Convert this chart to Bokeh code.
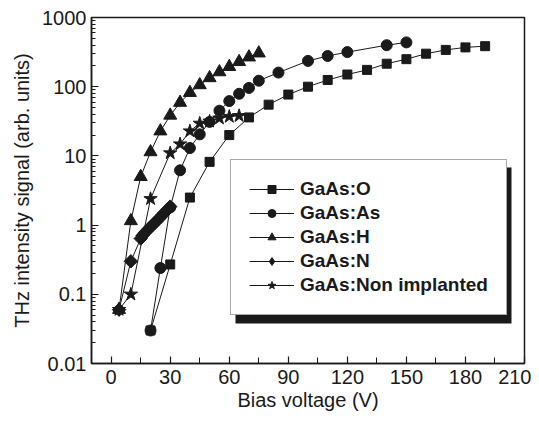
from bokeh.plotting import figure
from bokeh.models import (Legend, LegendItem, SingleIntervalTicker, LogTicker,
                          CustomJSTickFormatter, BoxAnnotation, Range1d,
                          ColumnDataSource, CDSView, IndexFilter)
from bokeh.embed import file_html
from bokeh.resources import INLINE

# ---- data ----
o_v = [20, 30, 40, 50, 60, 70, 80, 90, 100, 110, 120, 130, 140, 150, 160, 170, 180, 190]
o_y = [0.03, 0.27, 2.5, 8.2, 20, 36, 55, 77, 100, 125, 150, 175, 215, 250, 300, 340, 370, 385]

as_v = [20, 25, 30, 35, 40, 45, 50, 55, 60, 65, 70, 75, 85, 100, 110, 120, 140, 150]
as_y = [0.03, 0.24, 1.8, 6.2, 13, 20.5, 31, 45, 62, 79, 96, 122, 160, 236, 278, 316, 398, 437]

h_v = [4, 10, 15, 20, 25, 30, 35, 40, 45, 50, 55, 60, 65, 70, 75]
h_y = [0.06, 1.15, 5.0, 11.4, 22.8, 38.5, 59, 82, 106, 134, 163, 194, 229, 267, 305]

n_v = [4, 10, 15, 16, 17, 18, 19, 20, 21, 22, 23, 24, 25, 26, 27, 28, 29, 30]
n_y = [0.06, 0.3, 0.64, 0.71, 0.77, 0.82, 0.88, 0.94, 1.0, 1.07, 1.14, 1.22, 1.3, 1.4, 1.5, 1.6, 1.72, 1.85]

ni_v = [4, 10, 20, 30, 35, 40, 45, 50, 55, 60, 65]
ni_y = [0.06, 0.1, 2.4, 11, 14.8, 22.8, 29.5, 31.6, 35, 37, 38]

labels = ["GaAs:O", "GaAs:As", "GaAs:H", "GaAs:N", "GaAs:Non implanted"]
x_ticks_interval = 30

FONT = "Liberation Sans"
INK = "#1a1a1a"

p = figure(width=531, height=413, y_axis_type="log",
           x_range=Range1d(-10, 210), y_range=Range1d(0.01, 1000),
           output_backend="svg", toolbar_location=None,
           min_border_left=91, min_border_right=7, min_border_top=17, min_border_bottom=47)

p.grid.visible = False
p.outline_line_color = INK
p.outline_line_width = 1.5
p.background_fill_color = "white"
p.border_fill_color = "white"

# axes
p.xaxis.ticker = SingleIntervalTicker(interval=x_ticks_interval, num_minor_ticks=2)
p.yaxis.ticker = LogTicker(num_minor_ticks=10)
p.yaxis.formatter = CustomJSTickFormatter(code="return Number(tick.toPrecision(3)).toString();")
for ax in (p.xaxis, p.yaxis):
    ax.axis_line_color = INK
    ax.axis_line_width = 1.5
    ax.major_tick_line_color = INK
    ax.minor_tick_line_color = INK
    ax.major_tick_line_width = 1.2
    ax.minor_tick_line_width = 1.0
    ax.major_tick_in = 7
    ax.major_tick_out = 0
    ax.minor_tick_in = 4
    ax.minor_tick_out = 0
    ax.major_label_text_font = FONT
    ax.major_label_text_font_size = "20px"
    ax.major_label_text_color = INK
    ax.axis_label_text_font = FONT
    ax.axis_label_text_font_size = "20px"
    ax.axis_label_text_font_style = "normal"
    ax.axis_label_text_color = INK
p.xaxis.minor_tick_in = 6
p.xaxis.major_label_standoff = 6
p.yaxis.major_label_standoff = 5
p.xaxis.axis_label = "Bias voltage (V)"
p.yaxis.axis_label = "THz intensity signal (arb. units)"
p.xaxis.axis_label_standoff = 2
p.yaxis.axis_label_standoff = 6

# (x, y, marker, size, angle, legend marker, legend size)
series = [
    (o_v, o_y, "square", 9, 0.0, "square", 9),
    (as_v, as_y, "circle", 11, 0.0, "circle", 11),
    (h_v, h_y, "triangle", 13, 0.0, "triangle", 13),
    (n_v, n_y, "square", 9.5, 0.785398, "diamond", 13),
    (ni_v, ni_y, "star", 14, 0.0, "star", 14),
]

items = []
for (xs, ys, mk, sz, ang, lmk, lsz), lab in zip(series, labels):
    src = ColumnDataSource(data=dict(x=xs, y=ys))
    ln = p.line("x", "y", source=src, line_color=INK, line_width=1)
    sc = p.scatter("x", "y", source=src, marker=mk, size=sz, angle=ang,
                   fill_color=INK, line_color=INK)
    if lmk == mk and ang == 0.0:
        items.append(LegendItem(label=lab, renderers=[ln, sc]))
    else:
        # legend sample: drawn only on the first point, hidden under its rotated square
        lsc = p.scatter("x", "y", source=src, view=CDSView(filter=IndexFilter([0])),
                        marker=lmk, size=lsz, fill_color=INK, line_color=INK)
        items.append(LegendItem(label=lab, renderers=[ln, lsc]))

shadow = BoxAnnotation(left=235, right=511, top=167, bottom=323,
                       left_units="canvas", right_units="canvas",
                       top_units="canvas", bottom_units="canvas",
                       fill_color=INK, fill_alpha=1.0, line_color=None,
                       level="overlay")
p.add_layout(shadow)

legend = Legend(items=items, location=(139, 48),
                label_text_font=FONT, label_text_font_size="19px",
                label_text_font_style="bold", label_text_color=INK,
                glyph_width=45, glyph_height=20, label_height=20,
                label_standoff=6, spacing=2, padding=18, margin=0,
                border_line_color="#555555", border_line_width=1,
                background_fill_color="white", background_fill_alpha=1.0)
p.add_layout(legend)

open("out.html", "w").write(file_html(p, INLINE))
